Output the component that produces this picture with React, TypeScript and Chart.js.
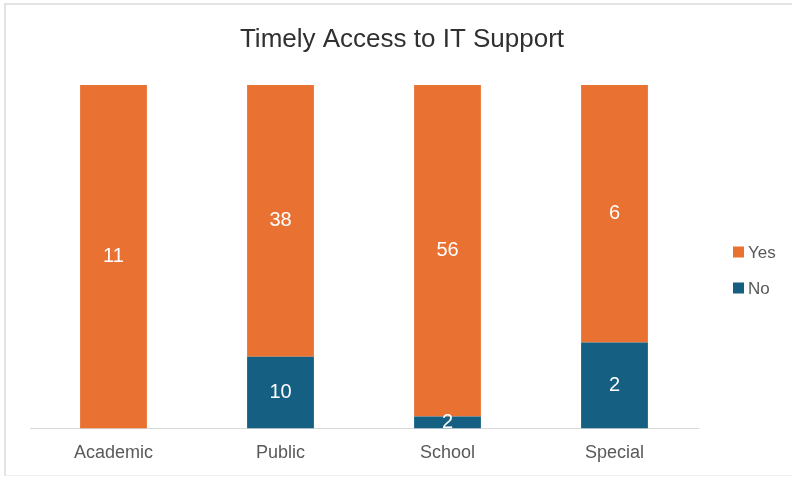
import React, { useEffect, useRef } from "react";
import { Chart, registerables } from "chart.js";

Chart.register(...registerables);

const categories = ["Academic", "Public", "School", "Special"];
const yesCounts = [11, 38, 56, 6];
const noCounts = [0, 10, 2, 2];
const seriesNames = ["Yes", "No"];
const chartTitle = "Timely Access to IT Support";

const ORANGE = "#E97132";
const BLUE = "#156082";
const FONT = "'Liberation Sans', Arial, sans-serif";

const toPct = (v: number, i: number) => {
  const total = yesCounts[i] + noCounts[i];
  return total === 0 ? 0 : (v / total) * 100;
};

const overlayPlugin = {
  id: "overlay",
  afterDatasetsDraw(chart: any) {
    const ctx = chart.ctx;
    ctx.save();
    ctx.font = `20px ${FONT}`;
    ctx.fillStyle = "#ffffff";
    ctx.textAlign = "center";
    ctx.textBaseline = "middle";
    const raw = [yesCounts, noCounts];
    chart.data.datasets.forEach((ds: any, di: number) => {
      const meta = chart.getDatasetMeta(di);
      meta.data.forEach((bar: any, i: number) => {
        const v = raw[di][i];
        if (!v) return;
        const props = bar.getProps(["x", "y", "base"], true);
        const cy = (props.y + props.base) / 2;
        ctx.fillText(String(v), props.x, cy);
      });
    });
    ctx.restore();
  },
  afterDraw(chart: any) {
    const ctx = chart.ctx;
    ctx.save();
    ctx.font = `26px ${FONT}`;
    ctx.fillStyle = "#303030";
    ctx.textAlign = "center";
    ctx.textBaseline = "middle";
    ctx.fillText(chartTitle, 402, 40);
    const colors = [ORANGE, BLUE];
    const ys = [252, 288];
    ctx.font = `17px ${FONT}`;
    ctx.textAlign = "left";
    seriesNames.forEach((name, i) => {
      ctx.fillStyle = colors[i];
      ctx.fillRect(733, ys[i] - 5.5, 11, 11);
      ctx.fillStyle = "#595959";
      ctx.fillText(name, 748, ys[i] + 1);
    });
    ctx.restore();
  },
};

export default function App() {
  const ref = useRef<HTMLCanvasElement | null>(null);
  useEffect(() => {
    if (!ref.current) return;
    const chart = new Chart(ref.current, {
      type: "bar",
      data: {
        labels: categories,
        datasets: [
          {
            label: seriesNames[0],
            data: yesCounts.map((v, i) => toPct(v, i)),
            backgroundColor: ORANGE,
            barPercentage: 0.8,
            categoryPercentage: 0.5,
            order: 1,
          },
          {
            label: seriesNames[1],
            data: noCounts.map((v, i) => toPct(v, i)),
            backgroundColor: BLUE,
            barPercentage: 0.8,
            categoryPercentage: 0.5,
            order: 0,
          },
        ],
      },
      options: {
        animation: false,
        responsive: false,
        devicePixelRatio: 1,
        layout: { padding: { left: 30, right: 94, top: 85, bottom: 0 } },
        plugins: {
          legend: { display: false },
          title: { display: false },
          tooltip: { enabled: false },
        },
        scales: {
          x: {
            stacked: true,
            grid: { display: false, drawTicks: false },
            border: { display: true, color: "#D9D9D9", width: 1 },
            ticks: {
              color: "#595959",
              font: { family: FONT, size: 18 },
              padding: 14,
            },
          },
          y: {
            stacked: true,
            min: 0,
            max: 100,
            display: false,
          },
        },
      },
      plugins: [overlayPlugin],
    });
    return () => chart.destroy();
  }, []);

  return (
    <div style={{ position: "absolute", left: 0, top: 0, width: 792, height: 478, background: "#fff" }}>
      <div
        style={{
          position: "absolute",
          left: 4,
          top: 3,
          right: 0,
          bottom: 2,
          borderTop: "2px solid #e3e3e3",
          borderLeft: "2px solid #e3e3e3",
          borderBottom: "1px solid #f0f0f0",
        }}
      />
      <canvas ref={ref} width={792} height={478} style={{ position: "absolute", left: 0, top: 0 }} />
    </div>
  );
}
